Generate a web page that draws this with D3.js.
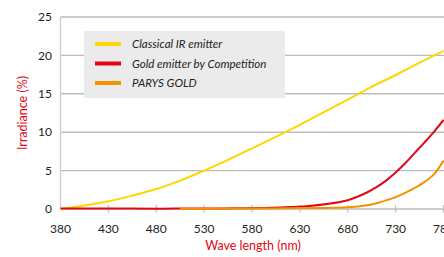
<!DOCTYPE html>
<html><head><meta charset="utf-8">
<script src="https://cdn.jsdelivr.net/npm/d3@7"></script>
<style>
html,body{margin:0;padding:0;background:#fff;overflow:hidden}
svg{display:block}
text{font-family:Lato, "Open Sans", sans-serif}
</style></head>
<body>
<svg id="c" width="444" height="257"></svg>
<script>
const xTicks = [380, 430, 480, 530, 580, 630, 680, 730, 780];
const yTicks = [0, 5, 10, 15, 20, 25];
const seriesNames = ["Classical IR emitter", "Gold emitter by Competition", "PARYS GOLD"];
const seriesColors = ["#ffd600", "#e30613", "#f39200"];

const classicalWl = [380, 405, 430, 455, 480, 505, 530, 555, 580, 605, 630, 655, 680, 705, 730, 755, 780];
const classicalVal = [0, 0.45, 1.0, 1.75, 2.6, 3.7, 5.0, 6.4, 7.9, 9.4, 10.95, 12.6, 14.25, 15.9, 17.45, 19.05, 20.6];

const goldWl = [380, 450, 500, 550, 600, 620, 640, 660, 680, 690, 700, 710, 720, 730, 740, 750, 760, 770, 780];
const goldVal = [0.05, 0.05, 0.05, 0.08, 0.15, 0.25, 0.4, 0.68, 1.15, 1.6, 2.15, 2.85, 3.7, 4.75, 5.95, 7.3, 8.65, 10.05, 11.6];

const parysWl = [505, 550, 600, 650, 680, 700, 710, 720, 730, 740, 750, 760, 770, 780];
const parysVal = [0.03, 0.05, 0.08, 0.13, 0.22, 0.48, 0.75, 1.12, 1.55, 2.1, 2.75, 3.5, 4.5, 6.3];

const svg = d3.select("#c");
const W = 444;
const x = d3.scaleLinear().domain([380, 780]).range([60.5, 443.5]);
const y = d3.scaleLinear().domain([0, 25]).range([209, 17]);

// grid
svg.append("g").selectAll("line").data(yTicks).join("line")
  .attr("x1", x(380)).attr("x2", W)
  .attr("y1", d => y(d)).attr("y2", d => y(d))
  .attr("stroke", "#bdbdbd").attr("stroke-width", 1.4);

// y axis line
svg.append("line").attr("x1", x(380)).attr("x2", x(380))
  .attr("y1", y(25)).attr("y2", y(0))
  .attr("stroke", "#cfcfcf").attr("stroke-width", 1.4);

// x ticks
svg.append("g").selectAll("line").data(xTicks.slice(1)).join("line")
  .attr("x1", d => x(d)).attr("x2", d => x(d))
  .attr("y1", y(0) - 4).attr("y2", y(0) + 3.5)
  .attr("stroke", "#bdbdbd").attr("stroke-width", 1.2);

// tick labels
svg.append("g").selectAll("text").data(yTicks).join("text")
  .attr("x", 52).attr("y", d => y(d) + 4.2)
  .attr("text-anchor", "end").attr("font-size", 12).attr("fill", "#231f20")
  .text(d => d);
svg.append("g").selectAll("text").data(xTicks).join("text")
  .attr("x", d => x(d)).attr("y", 232.5)
  .attr("text-anchor", "middle").attr("font-size", 12).attr("fill", "#231f20")
  .text(d => d);

// axis titles
svg.append("text").attr("transform", `translate(27,${(y(0)+y(25))/2}) rotate(-90)`)
  .attr("text-anchor", "middle").attr("font-size", 12.5).attr("fill", "#e30613")
  .text("Irradiance (%)");
svg.append("text").attr("x", 253).attr("y", 250)
  .attr("text-anchor", "middle").attr("font-size", 12.5).attr("fill", "#e30613")
  .text("Wave length (nm)");

// lines
const line = d3.line().x(d => x(d[0])).y(d => y(d[1])).curve(d3.curveCatmullRom.alpha(0.5));
const series = [
  d3.zip(classicalWl, classicalVal),
  d3.zip(goldWl, goldVal),
  d3.zip(parysWl, parysVal)
];
svg.append("g").selectAll("path").data(series).join("path")
  .attr("d", d => line(d)).attr("fill", "none")
  .attr("stroke", (d, i) => seriesColors[i]).attr("stroke-width", 2);

// legend
const lg = svg.append("g");
lg.append("rect").attr("x", 84).attr("y", 31).attr("width", 201).attr("height", 67).attr("fill", "#ebebeb");
const rows = lg.selectAll("g").data(seriesNames).join("g")
  .attr("transform", (d, i) => `translate(0,${44 + i * 19.5})`);
rows.append("rect").attr("x", 95).attr("y", -2).attr("width", 26).attr("height", 4)
  .attr("fill", (d, i) => seriesColors[i]);
rows.append("text").attr("x", 132).attr("y", 4.3).attr("font-size", 11.5)
  .attr("font-style", "italic").attr("fill", "#231f20").text(d => d);
</script>
</body></html>
